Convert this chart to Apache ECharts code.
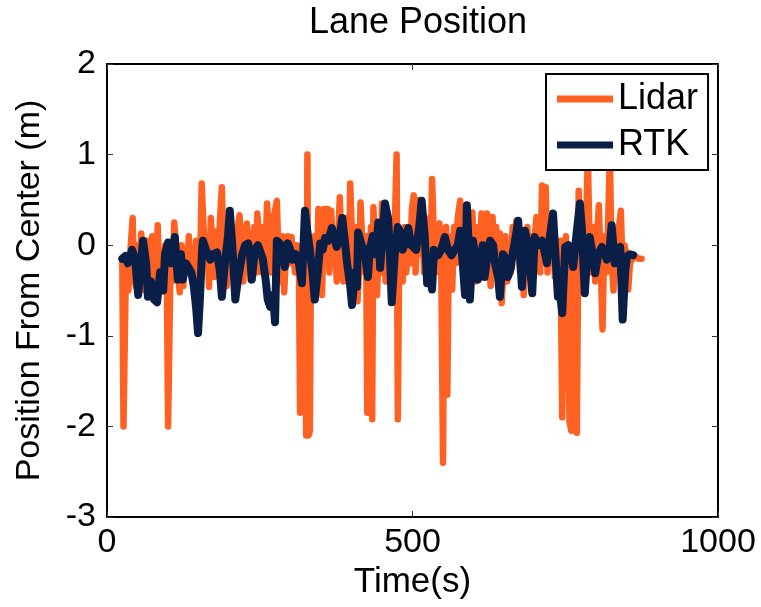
<!DOCTYPE html>
<html>
<head>
<meta charset="utf-8">
<script src="https://cdn.jsdelivr.net/npm/echarts@6/dist/echarts.min.js"></script>
<style>
html,body{margin:0;padding:0;background:#fff;}
#chart{width:761px;height:607px;}
</style>
</head>
<body>
<div id="chart"></div>
<script>
// ---- data (time in s, lateral position in m) ----
var titleText = 'Lane Position';
var xName = 'Time(s)';
var yName = 'Position From Center (m)';
var seriesNames = ['Lidar', 'RTK'];
var xTicks = [0, 500, 1000];
var yTicks = [-3, -2, -1, 0, 1, 2];

var lidarPoints = [
[25,-0.15],[27,-2.0],[29,-2.0],[31,-0.2],[35,-0.5],[38,-0.1],[42,0.3],[44,-0.3],[47,-0.45],[50,0.0],
[53,-0.4],[56,0.13],[59,-0.3],[62,-0.5],[65,0.05],[68,-0.55],[71,-0.2],[74,0.1],[77,-0.45],[80,-0.3],
[83,0.22],[86,-0.5],[89,-0.1],[92,-0.4],[95,0.0],[98,-0.35],[100,-2.0],[102,-2.0],[104,-0.2],[107,-0.4],
[110,0.25],[113,0.0],[116,-0.3],[119,-0.52],[122,0.0],[125,-0.45],[128,-0.05],[131,-0.3],[134,0.1],[137,-0.25],
[140,-0.1],[143,-0.4],[146,0.05],[149,-0.3],[153,0.0],[155,0.68],[158,0.2],[161,-0.2],[164,0.1],[167,-0.46],
[170,0.3],[173,-0.1],[176,-0.35],[179,0.15],[182,-0.2],[185,0.3],[188,0.64],[190,0.1],[193,-0.3],[196,-0.45],
[199,0.2],[202,-0.1],[205,-0.35],[208,0.05],[211,-0.2],[214,0.2],[217,0.33],[220,-0.2],[223,-0.4],[226,0.1],
[229,0.24],[232,-0.2],[235,-0.38],[238,0.0],[241,0.2],[244,-0.3],[246,0.35],[250,0.0],[253,-0.3],[256,0.2],
[259,-0.15],[262,0.46],[265,0.1],[268,-0.3],[271,0.2],[274,0.35],[278,0.49],[281,-0.2],[284,-0.4],[287,0.1],
[290,-0.52],[293,-0.1],[296,0.1],[299,-0.2],[302,0.09],[305,-0.15],[308,-0.3],[311,0.0],[314,-0.15],[316,-1.85],
[318,-0.2],[321,-0.5],[324,-0.1],[326,-2.1],[328,1.0],[330,-2.1],[332,-2.05],[334,0.0],[337,-0.3],[340,0.1],
[343,-0.5],[346,0.4],[349,-0.2],[352,-0.55],[355,0.4],[358,0.0],[361,0.4],[364,-0.3],[367,0.38],[370,-0.1],
[373,0.1],[376,-0.4],[379,0.2],[381,0.53],[384,-0.1],[387,-0.4],[390,0.3],[393,0.0],[396,-0.3],[398,0.68],
[401,0.1],[404,-0.45],[407,0.2],[410,-0.62],[413,-0.2],[415,0.47],[418,0.0],[421,-0.3],[424,0.1],[426,-1.85],
[429,-0.2],[432,0.2],[434,-1.92],[436,0.42],[439,-0.2],[442,-0.55],[445,0.1],[448,-0.3],[450,0.46],[453,0.0],
[456,-0.4],[459,0.3],[462,-0.2],[465,0.15],[468,-0.35],[471,0.2],[474,1.0],[476,-1.92],[478,-0.3],[481,0.1],
[484,-0.4],[487,0.2],[490,-0.3],[493,0.15],[496,-0.2],[499,0.4],[502,0.55],[505,-0.3],[508,0.1],[510,0.5],
[513,-0.1],[516,0.3],[519,-0.3],[522,0.1],[525,-0.4],[528,0.3],[530,0.0],[532,0.73],[535,0.1],[538,-0.3],
[541,0.2],[544,0.24],[547,-0.2],[550,-2.4],[552,-0.1],[555,0.2],[557,-1.65],[559,-0.3],[562,0.1],[565,-0.49],
[568,0.2],[571,-0.2],[574,0.3],[578,0.49],[581,-0.1],[584,-0.3],[587,0.3],[589,-0.1],[592,-0.57],[595,0.2],
[598,0.36],[601,-0.2],[604,-0.4],[607,0.2],[610,-0.1],[613,0.35],[616,-0.3],[619,0.1],[622,0.35],[625,-0.2],
[628,-0.45],[631,0.31],[634,-0.1],[637,0.2],[640,-0.3],[643,0.13],[646,-0.64],[649,-0.2],[652,0.1],[655,-0.4],
[658,0.0],[661,-0.3],[664,0.2],[667,-0.1],[670,0.27],[673,0.0],[676,-0.3],[679,0.15],[682,-0.55],[685,-0.1],
[688,0.2],[691,-0.3],[694,0.1],[697,-0.4],[700,0.1],[703,0.31],[706,-0.1],[709,-0.3],[712,0.66],[715,0.2],
[718,0.64],[721,-0.3],[724,0.1],[727,-0.2],[730,0.2],[733,-0.35],[736,0.0],[739,-0.3],[742,0.05],[745,-1.9],
[748,-0.3],[751,0.1],[754,-0.5],[757,-1.95],[760,-2.05],[763,0.0],[766,-0.3],[769,-2.07],[772,0.6],[775,-0.2],
[778,0.1],[781,-0.4],[784,0.2],[787,1.0],[790,-0.1],[793,-0.3],[796,0.2],[799,-0.4],[802,0.1],[805,0.44],
[808,-0.2],[811,-0.93],[814,0.1],[817,-0.3],[820,0.2],[823,1.0],[826,-0.2],[829,-0.5],[832,0.1],[835,-0.3],
[838,0.2],[841,0.38],[844,-0.3],[847,0.0],[850,-0.1],[853,-0.49],[856,-0.2],[860,-0.15],[865,-0.12],[870,-0.15],
[875,-0.15]
];

var rtkPoints = [
[25,-0.15],[30,-0.12],[34,-0.2],[41,-0.05],[46,-0.15],[51,-0.55],[54,-0.3],[59,0.05],[64,-0.2],[67,-0.57],
[72,-0.4],[77,-0.6],[82,-0.63],[87,-0.3],[92,-0.5],[95,-0.1],[100,0.03],[105,-0.2],[111,0.09],[116,-0.38],
[121,-0.1],[124,-0.38],[129,-0.2],[133,-0.24],[138,-0.3],[142,-0.45],[146,-0.7],[149,-0.97],[152,-0.6],[156,0.0],
[157,0.05],[162,-0.05],[169,-0.16],[173,-0.1],[180,-0.08],[185,-0.3],[188,-0.57],[193,-0.2],[198,0.1],[201,0.38],
[205,0.0],[210,-0.6],[214,-0.4],[221,-0.11],[226,0.0],[231,0.02],[234,-0.1],[237,-0.38],[242,-0.05],[247,0.0],
[250,0.0],[255,-0.15],[260,-0.4],[263,-0.6],[267,-0.68],[272,-0.55],[275,-0.85],[278,0.05],[283,0.02],[288,-0.1],
[291,-0.24],[296,0.02],[300,-0.05],[304,-0.16],[309,-0.1],[314,-0.2],[319,-0.42],[324,0.38],[327,0.2],[332,-0.05],
[337,-0.35],[340,-0.6],[345,-0.3],[349,0.02],[353,-0.05],[357,0.08],[362,0.05],[368,0.19],[373,0.05],[376,-0.02],
[381,0.1],[385,0.3],[390,0.0],[393,-0.2],[398,-0.45],[401,-0.66],[406,-0.3],[409,-0.46],[411,0.14],[417,0.0],
[422,-0.09],[427,-0.35],[430,-0.05],[435,0.1],[440,-0.1],[444,0.25],[447,-0.25],[450,-0.24],[455,0.46],[460,0.3],
[463,-0.1],[466,-0.63],[471,-0.1],[476,0.2],[480,0.15],[484,-0.05],[489,0.05],[493,0.19],[498,0.0],[501,0.02],
[506,-0.05],[511,0.2],[515,0.49],[520,0.1],[524,-0.42],[529,-0.3],[532,-0.49],[535,-0.05],[542,-0.11],[547,-0.05],
[553,0.09],[558,-0.05],[564,-0.11],[569,-0.05],[574,0.0],[578,0.16],[581,-0.1],[586,-0.55],[589,0.44],[592,0.0],
[594,-0.6],[599,0.05],[604,-0.2],[607,-0.38],[612,-0.1],[615,0.0],[618,-0.35],[623,-0.1],[627,0.05],[632,0.0],
[635,-0.2],[640,-0.35],[643,-0.57],[648,-0.1],[653,-0.15],[656,-0.35],[661,-0.25],[664,-0.09],[669,0.1],[673,0.27],
[676,-0.1],[679,-0.46],[684,0.16],[689,0.0],[692,-0.2],[696,-0.53],[700,0.09],[705,0.0],[712,0.05],[717,-0.1],
[720,-0.2],[725,0.1],[730,0.35],[733,0.0],[738,-0.57],[741,-0.5],[745,-0.75],[750,-0.02],[755,0.0],[760,-0.1],
[763,-0.24],[768,0.1],[774,0.46],[777,0.2],[782,-0.53],[787,0.0],[790,0.09],[795,-0.1],[799,-0.31],[804,-0.1],
[810,-0.02],[815,-0.1],[818,-0.16],[823,0.0],[826,0.22],[831,-0.2],[836,-0.05],[840,-0.02],[844,-0.82],[848,-0.3],
[851,-0.12],[856,-0.1],[861,-0.11]
];

var colors = ['#FF6123', '#0A1F47'];
var FONT = '"Liberation Sans", Arial, Helvetica, sans-serif';

var chart = echarts.init(document.getElementById('chart'), null, {renderer: 'canvas'});

var axisLine = {show: true, onZero: false, lineStyle: {color: '#000', width: 2}};
var tick = {show: true, inside: true, length: 6, lineStyle: {color: '#333', width: 1}};

var option = {
  animation: false,
  backgroundColor: '#fff',
  title: {
    text: titleText, left: 413, top: 0, textAlign: 'center',
    textStyle: {fontFamily: FONT, fontSize: 36, fontWeight: 'normal', color: '#000'}
  },
  grid: {left: 107, right: 43, top: 64, bottom: 90, containLabel: false, outerBoundsMode: 'none',
         show: false},
  legend: {
    data: seriesNames, orient: 'vertical', left: 546, top: 74,
    backgroundColor: '#fff', borderColor: '#000', borderWidth: 2, borderRadius: 0,
    padding: [7, 10, 7, 11], itemGap: 10, itemWidth: 56, itemHeight: 7, icon: 'rect',
    textStyle: {fontFamily: FONT, fontSize: 36, color: '#000', lineHeight: 36, padding: [0, 0, 0, 0]},
    selectedMode: false
  },
  xAxis: [{
    type: 'value', min: xTicks[0], max: xTicks[xTicks.length - 1], interval: 500,
    name: xName, nameLocation: 'middle', nameGap: 44,
    nameTextStyle: {fontFamily: FONT, fontSize: 35, color: '#000'},
    axisLine: axisLine, axisTick: tick, splitLine: {show: false},
    axisLabel: {fontFamily: FONT, fontSize: 34, color: '#000', margin: 9,
                formatter: function (v) { return String(v); }}
  }, {
    type: 'value', position: 'top', min: xTicks[0], max: xTicks[xTicks.length - 1], interval: 500,
    axisLine: axisLine, axisTick: tick, splitLine: {show: false}, axisLabel: {show: false}
  }],
  yAxis: [{
    type: 'value', min: yTicks[0], max: yTicks[yTicks.length - 1], interval: 1,
    name: yName, nameLocation: 'middle', nameGap: 60,
    nameTextStyle: {fontFamily: FONT, fontSize: 34, color: '#000'},
    axisLine: axisLine, axisTick: tick, splitLine: {show: false},
    axisLabel: {fontFamily: FONT, fontSize: 34, color: '#000', margin: 11,
                formatter: function (v) { return String(v); }}
  }, {
    type: 'value', position: 'right', min: yTicks[0], max: yTicks[yTicks.length - 1], interval: 1,
    axisLine: axisLine, axisTick: tick, splitLine: {show: false}, axisLabel: {show: false}
  }],
  series: [{
    name: seriesNames[0], type: 'line', data: lidarPoints, symbol: 'none', showSymbol: false,
    xAxisIndex: 0, yAxisIndex: 0,
    color: colors[0],
    lineStyle: {color: colors[0], width: 6.5, cap: 'round', join: 'round'},
    itemStyle: {color: colors[0]}, z: 2
  }, {
    name: seriesNames[1], type: 'line', data: rtkPoints, symbol: 'none', showSymbol: false,
    xAxisIndex: 0, yAxisIndex: 0,
    color: colors[1],
    lineStyle: {color: colors[1], width: 8, cap: 'round', join: 'round'},
    itemStyle: {color: colors[1]}, z: 3
  }]
};
chart.setOption(option);
</script>
</body>
</html>
